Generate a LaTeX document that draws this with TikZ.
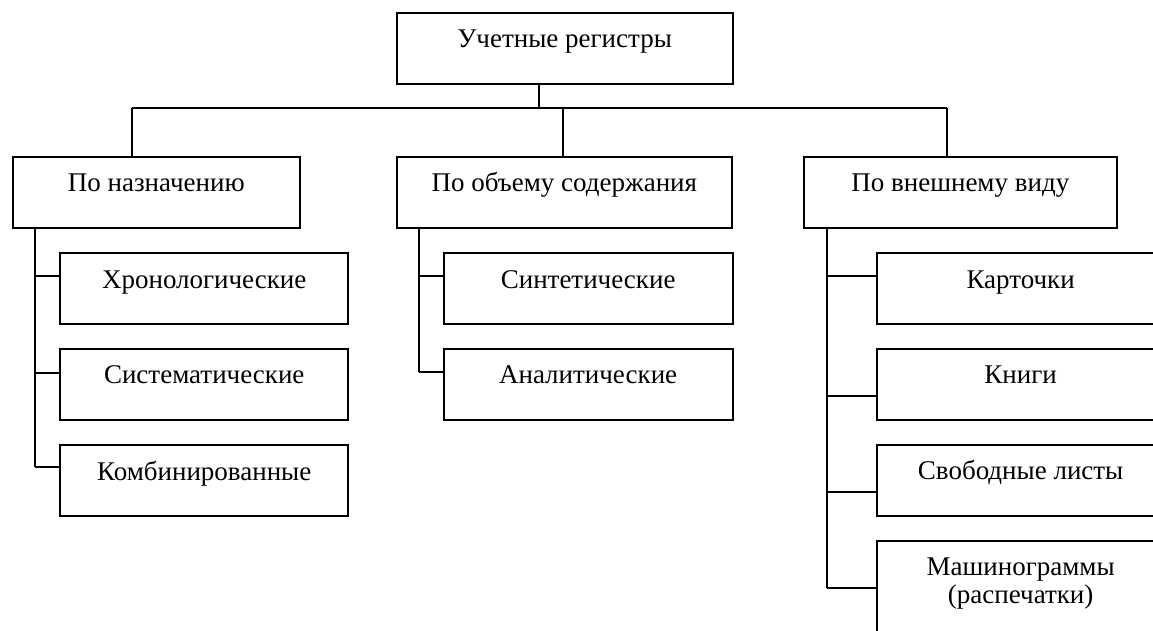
\documentclass[tikz,border=0pt]{standalone}
\usepackage{fontspec}
\setmainfont{Liberation Serif}
\begin{document}
\begin{tikzpicture}[x=1pt,y=-1pt,
  box/.style={draw, line width=1.9pt, inner sep=0pt, anchor=north west, minimum height=71pt},
  lbl/.style={anchor=base, inner sep=0pt, font=\fontsize{27}{28}\selectfont, align=center},
  conn/.style={line width=1.9pt}]
\useasboundingbox (0,0) rectangle (1153,631);
\clip (0,0) rectangle (1153,631);

% boxes
\node[box, minimum width=336pt] (root) at (395.7,11.7) {};
\node[box, minimum width=287.3pt] (pa) at (11.7,155.7) {};
\node[box, minimum width=335.3pt] (pb) at (395.7,155.7) {};
\node[box, minimum width=312.7pt] (pc) at (803,155.7) {};

\node[box, minimum width=288pt] (a1) at (59.3,252) {};
\node[box, minimum width=288pt] (a2) at (59.3,347.7) {};
\node[box, minimum width=288pt] (a3) at (59.3,444) {};

\node[box, minimum width=289pt] (b1) at (442.7,252) {};
\node[box, minimum width=289pt] (b2) at (442.7,347.7) {};

\node[box, minimum width=288pt] (c1) at (875.7,252.3) {};
\node[box, minimum width=288pt] (c2) at (875.7,347.7) {};
\node[box, minimum width=288pt] (c3) at (875.7,443.7) {};
\node[box, minimum width=288pt, minimum height=110pt] (c4) at (875.7,540) {};

% labels
\node[lbl] (troot) at ([yshift=-36pt]root.north) {Учетные регистры};
\node[lbl] (tpa) at ([yshift=-36pt]pa.north) {По назначению};
\node[lbl] (tpb) at ([yshift=-36pt]pb.north) {По объему содержания};
\node[lbl] (tpc) at ([yshift=-36pt]pc.north) {По внешнему виду};
\node[lbl] (ta1) at ([yshift=-36pt]a1.north) {Хронологические};
\node[lbl] (ta2) at ([yshift=-36pt]a2.north) {Систематические};
\node[lbl] (ta3) at ([yshift=-36pt]a3.north) {Комбинированные};
\node[lbl] (tb1) at ([yshift=-36pt]b1.north) {Синтетические};
\node[lbl] (tb2) at ([yshift=-36pt]b2.north) {Аналитические};
\node[lbl] (tc1) at ([yshift=-36pt]c1.north) {Карточки};
\node[lbl] (tc2) at ([yshift=-36pt]c2.north) {Книги};
\node[lbl] (tc3) at ([yshift=-36pt]c3.north) {Свободные листы};
\node[lbl] (tc4a) at ([yshift=-35pt]c4.north) {Машинограммы};
\node[lbl] (tc4b) at ([yshift=-63pt]c4.north) {(распечатки)};

% top-level connectors
\coordinate (tr) at (539.3,107.7);
\coordinate (ba) at (131.7,107.7);
\coordinate (bb) at (563.3,107.7);
\coordinate (bc) at (947.3,107.7);
\draw[conn] (tr |- root.south) -- (tr);
\draw[conn] (ba) -- (bc);
\draw[conn] (ba) -- (ba |- pa.north);
\draw[conn] (bb) -- (bb |- pb.north);
\draw[conn] (bc) -- (bc |- pc.north);

% left group
\coordinate (ja1) at (35,276);
\coordinate (ja2) at (35,372.7);
\coordinate (ja3) at (35,467.3);
\draw[conn] (ja1 |- pa.south) -- (ja3);
\draw[conn] (ja1) -- (ja1 -| a1.west);
\draw[conn] (ja2) -- (ja2 -| a2.west);
\draw[conn] (ja3) -- (ja3 -| a3.west);

% middle group
\coordinate (jb1) at (419,276);
\coordinate (jb2) at (419,371.7);
\draw[conn] (jb1 |- pb.south) -- (jb2);
\draw[conn] (jb1) -- (jb1 -| b1.west);
\draw[conn] (jb2) -- (jb2 -| b2.west);

% right group
\coordinate (jc1) at (827.3,276);
\coordinate (jc2) at (827.3,396);
\coordinate (jc3) at (827.3,491.7);
\coordinate (jc4) at (827.3,587.7);
\draw[conn] (jc1 |- pc.south) -- (jc4);
\draw[conn] (jc1) -- (jc1 -| c1.west);
\draw[conn] (jc2) -- (jc2 -| c2.west);
\draw[conn] (jc3) -- (jc3 -| c3.west);
\draw[conn] (jc4) -- (jc4 -| c4.west);
\end{tikzpicture}
\end{document}
